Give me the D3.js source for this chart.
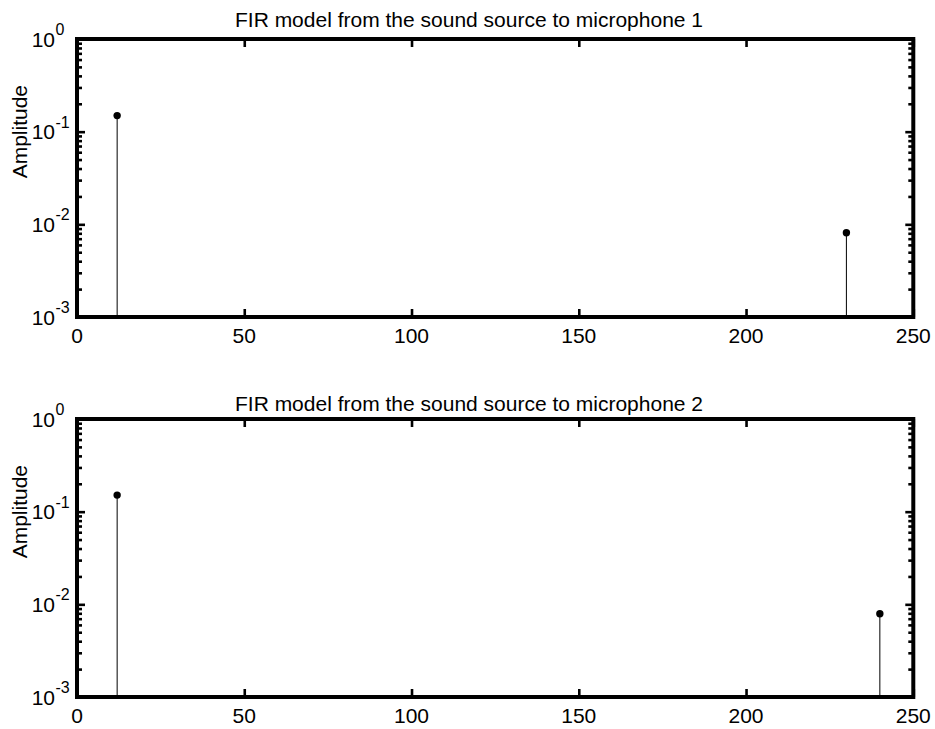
<!DOCTYPE html>
<html><head><meta charset="utf-8">
<script src="https://cdn.jsdelivr.net/npm/d3@7"></script>
<style>body{margin:0;background:#fff}svg{display:block}text{font-family:"Liberation Sans",Arial,sans-serif;fill:#000}</style>
</head><body><svg id="c" width="935" height="729"></svg>
<script>
const titles = ["FIR model from the sound source to microphone 1","FIR model from the sound source to microphone 2"];
const yLabel = "Amplitude";
const xTicks = [0,50,100,150,200,250];
const yDecades = [-3,-2,-1,0];
const tapsMic1 = [12,230];
const ampsMic1 = [0.149,0.0081];
const tapsMic2 = [12,240];
const ampsMic2 = [0.151,0.0079];
const panelsData = [{taps:tapsMic1, amps:ampsMic1},{taps:tapsMic2, amps:ampsMic2}];

const svg = d3.select("#c");
const L = 77, R = 913.3;
const tops = [39,419], H = 278;
const titleY = [27.3,410.7];
const x = d3.scaleLinear().domain([0,250]).range([L,R]);
const minor = [];
yDecades.slice(0,-1).forEach(e=>{for(let k=2;k<=9;k++) minor.push(k*Math.pow(10,e));});

panelsData.forEach((p,i)=>{
  const t = tops[i], b = t+H;
  const y = d3.scaleLog().domain([1e-3,1]).range([b,t]);
  const g = svg.append("g");
  // stems
  p.taps.forEach((tap,j)=>{
    g.append("line").attr("x1",x(tap)).attr("x2",x(tap)).attr("y1",y(1e-3)).attr("y2",y(p.amps[j]))
      .attr("stroke","#000").attr("stroke-width",1);
    g.append("circle").attr("cx",x(tap)).attr("cy",y(p.amps[j])).attr("r",3.7).attr("fill","#000");
  });
  // axes
  const sw = 4;
  const majors = yDecades.map(e=>Math.pow(10,e));
  const axL = g.append("g").attr("transform",`translate(${L},0)`)
    .call(d3.axisLeft(y).tickValues(majors).tickSize(-8).tickFormat(""));
  const axLm = g.append("g").attr("transform",`translate(${L},0)`)
    .call(d3.axisLeft(y).tickValues(minor).tickSize(-5).tickFormat(""));
  const axR = g.append("g").attr("transform",`translate(${R},0)`)
    .call(d3.axisRight(y).tickValues(majors).tickSize(-8).tickFormat(""));
  const axRm = g.append("g").attr("transform",`translate(${R},0)`)
    .call(d3.axisRight(y).tickValues(minor).tickSize(-5).tickFormat(""));
  const axB = g.append("g").attr("transform",`translate(0,${b})`)
    .call(d3.axisBottom(x).tickValues(xTicks).tickSize(-8).tickFormat(""));
  const axT = g.append("g").attr("transform",`translate(0,${t})`)
    .call(d3.axisTop(x).tickValues(xTicks).tickSize(-8).tickFormat(""));
  [axL,axLm,axR,axRm,axB,axT].forEach(a=>{
    a.select(".domain").remove();
    a.selectAll(".tick line").attr("stroke","#000").attr("stroke-width",2.6);
  });
  g.append("rect").attr("x",L).attr("y",t).attr("width",R-L).attr("height",H)
    .attr("fill","none").attr("stroke","#000").attr("stroke-width",sw);
  // x labels
  xTicks.forEach(v=>{
    g.append("text").attr("x",x(v)).attr("y",b+26).attr("text-anchor","middle")
      .attr("font-size",21).text(v);
  });
  // y labels
  yDecades.forEach(e=>{
    const yy = y(Math.pow(10,e));
    g.append("text").attr("x",L-22).attr("y",yy+7.7).attr("text-anchor","end").attr("font-size",21).text("10");
    g.append("text").attr("x",L-21.5).attr("y",yy-4).attr("text-anchor","start").attr("font-size",16).text(String(e));
  });
  g.append("text").attr("transform",`translate(27,${y(0.1)}) rotate(-90)`).attr("text-anchor","middle")
    .attr("font-size",21).text(yLabel);
  g.append("text").attr("x",469).attr("y",titleY[i]).attr("text-anchor","middle").attr("font-size",21).text(titles[i]);
});
</script></body></html>
